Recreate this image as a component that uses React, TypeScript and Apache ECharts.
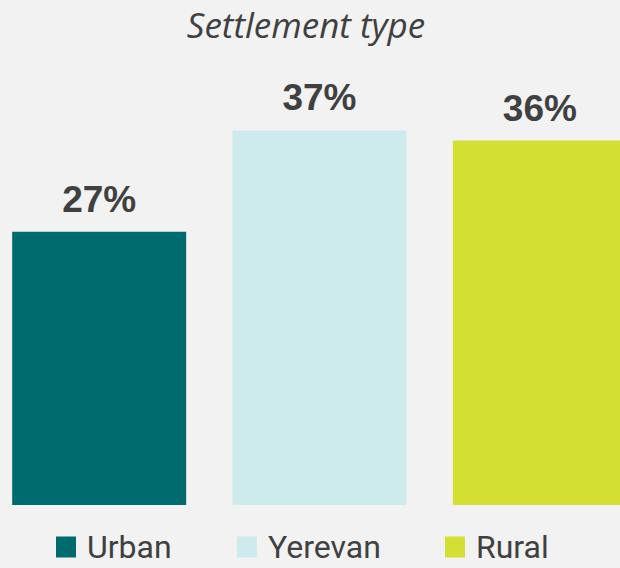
import React, { useEffect, useRef } from "react";
import * as echarts from "echarts";

const categories = ["Urban", "Yerevan", "Rural"];
const values = [27, 37, 36];
const colors = ["#006B6E", "#CDEAED", "#D4DF33"];
const titleText = "Settlement type";

const OFFSET = 11;

export default function App() {
  const ref = useRef<HTMLDivElement>(null);
  useEffect(() => {
    document.body.style.margin = "0";
    const chart = echarts.init(ref.current!, null, { renderer: "svg" });
    const series = categories.map((name, i) => ({
      name,
      type: "bar",
      barWidth: 174,
      barGap: "-100%",
      itemStyle: { color: colors[i] },
      label: {
        show: true,
        position: "top",
        distance: 14,
        formatter: "{c}%",
        fontFamily: "Liberation Sans",
        fontWeight: "bold",
        fontSize: 37,
        color: "#404040",
      },
      data: categories.map((_, j) => (j === i ? values[i] : "-")),
    }));
    const legendLefts = [56, 237, 445];
    chart.setOption({
      animation: false,
      backgroundColor: "#F2F2F2",
      title: {
        text: titleText,
        left: 301 + OFFSET,
        textAlign: "center",
        top: 2,
        textStyle: {
          fontFamily: "Open Sans",
          fontStyle: "italic",
          fontWeight: "normal",
          fontSize: 35,
          color: "#404040",
        },
      },
      grid: { left: 0, right: 0, top: 100, bottom: 63 },
      xAxis: {
        type: "category",
        data: categories,
        axisLine: { show: false },
        axisTick: { show: false },
        axisLabel: { show: false },
      },
      yAxis: {
        type: "value",
        min: 0,
        max: 40,
        show: false,
        splitLine: { show: false },
      },
      legend: categories.map((name, i) => ({
        data: [name],
        left: legendLefts[i] + OFFSET,
        top: 531,
        padding: 0,
        itemWidth: 20,
        itemHeight: 21,
        icon: "rect",
        textStyle: {
          fontFamily: "Roboto",
          fontSize: 32,
          lineHeight: 30,
          color: "#404040",
          padding: [0, 0, 0, 6],
        },
      })),
      series,
    });
    return () => chart.dispose();
  }, []);
  return (
    <div
      style={{
        position: "fixed",
        left: 0,
        top: 0,
        width: 620,
        height: 568,
        overflow: "hidden",
        background: "#F2F2F2",
      }}
    >
      <div
        ref={ref}
        style={{ position: "absolute", left: -OFFSET, top: 0, width: 661, height: 568 }}
      />
    </div>
  );
}
